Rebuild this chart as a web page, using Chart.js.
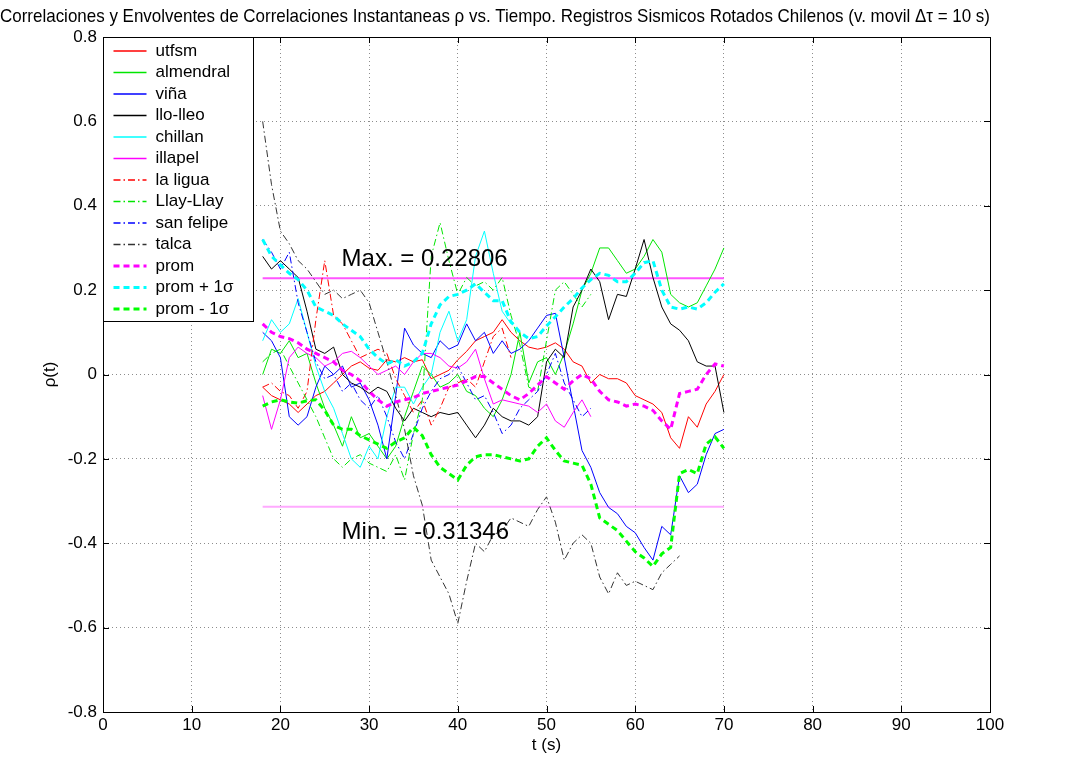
<!DOCTYPE html>
<html>
<head>
<meta charset="utf-8">
<script src="https://cdn.jsdelivr.net/npm/chart.js@4.4.1/dist/chart.umd.min.js"></script>
<style>
  html, body { margin: 0; padding: 0; background: #ffffff; }
  #wrap { width: 1090px; height: 761px; }
</style>
</head>
<body>
<div id="wrap"><canvas id="c" width="1090" height="761"></canvas></div>
<script>
// ---------------- DATA ----------------
const T = [18,19,20,21,22,23,24,25,26,27,28,29,30,31,32,33,34,35,36,37,38,39,40,41,42,43,44,45,46,47,48,49,50,51,52,53,54,55,56,57,58,59,60,61,62,63,64,65,66,67,68,69,70];

const utfsm = [-0.03,-0.05,-0.06,-0.07,-0.09,-0.07,-0.05,-0.04,-0.02,0.0,0.02,0.03,0.015,0.01,0.035,0.03,0.04,0.03,0.035,-0.01,0.0,0.01,0.035,0.055,0.08,0.09,0.1,0.13,0.1,0.08,0.065,0.06,0.065,0.075,0.06,0.03,0.02,-0.02,0.0,-0.01,-0.01,-0.02,-0.05,-0.06,-0.07,-0.09,-0.15,-0.175,-0.1,-0.125,-0.07,-0.04,0.0];
const almendral = [0.0,0.06,0.05,0.08,0.04,0.05,-0.02,-0.08,-0.12,-0.17,-0.1,-0.15,-0.14,-0.17,-0.2,-0.17,-0.1,-0.04,0.02,0.0,-0.03,-0.02,0.0,-0.04,-0.05,-0.08,-0.1,-0.06,0.0,0.1,-0.02,0.03,0.04,0.0,0.05,0.12,0.2,0.24,0.3,0.3,0.27,0.24,0.25,0.28,0.32,0.29,0.19,0.17,0.16,0.17,0.21,0.25,0.3];
const vina = [0.1,0.08,0.04,-0.1,-0.12,-0.1,-0.03,0.02,0.0,0.02,-0.03,-0.02,-0.06,-0.12,-0.2,-0.05,0.11,0.07,0.05,0.04,0.08,0.06,0.07,0.12,0.08,0.1,0.05,0.08,0.05,0.06,0.08,0.11,0.14,0.145,0.04,-0.07,-0.18,-0.22,-0.28,-0.315,-0.33,-0.36,-0.375,-0.41,-0.44,-0.36,-0.38,-0.24,-0.28,-0.26,-0.19,-0.14,-0.13];
const lloLleo = [0.28,0.25,0.27,0.25,0.23,0.15,0.06,0.05,0.065,0.0,-0.02,-0.03,-0.045,-0.03,-0.04,-0.08,-0.11,-0.08,-0.09,-0.1,-0.09,-0.095,-0.09,-0.12,-0.15,-0.12,-0.08,-0.1,-0.11,-0.11,-0.12,-0.1,0.03,0.06,0.04,0.16,0.2,0.25,0.22,0.13,0.19,0.185,0.25,0.32,0.23,0.16,0.12,0.105,0.08,0.03,0.02,0.02,-0.09];
const chillan = [0.08,0.13,0.1,0.12,0.18,0.1,0.02,-0.04,-0.08,-0.14,-0.2,-0.22,-0.17,-0.2,-0.1,-0.03,-0.03,-0.07,-0.03,0.0,0.1,0.15,0.08,0.13,0.28,0.34,0.24,0.15,0.12];
const illapel = [-0.05,-0.13,-0.06,0.04,0.065,0.05,0.04,0.02,0.03,0.05,0.055,0.04,0.02,0.0,0.01,0.02,0.0,0.03,0.05,0.05,0.04,0.02,0.015,0.03,0.06,-0.01,-0.07,-0.06,-0.065,-0.07,-0.075,-0.09,-0.07,-0.11,-0.125,-0.09,-0.06,-0.1];
const laLigua = [-0.03,-0.02,-0.04,-0.05,-0.08,-0.04,0.13,0.27,0.14,0.12,0.08,0.04,0.05,0.06,0.05,-0.01,-0.05,-0.09,-0.06,-0.12,-0.08,-0.03,-0.02,-0.01,-0.03,0.03,0.09,0.11,0.04];
const llayLlay = [0.03,0.05,0.06,0.02,-0.02,-0.06,-0.1,-0.15,-0.2,-0.22,-0.2,-0.19,-0.21,-0.22,-0.23,-0.19,-0.25,-0.14,-0.06,0.28,0.36,0.27,0.19,0.23,0.21,0.22,0.2,0.23,0.14,0.07,-0.03,-0.04,0.08,0.2,0.22,0.19,0.16,0.19];
const sanFelipe = [0.32,0.29,0.25,0.29,0.17,0.1,0.03,-0.01,0.0,-0.04,-0.02,-0.06,-0.08,-0.05,-0.1,-0.16,-0.2,-0.14,-0.08,-0.04,-0.01,0.0,0.02,-0.02,-0.06,-0.05,-0.09,-0.14,-0.12,-0.08,-0.06,-0.04,0.0,0.05,-0.02,-0.06,-0.1,-0.08];
const talca = [0.6,0.45,0.34,0.31,0.27,0.25,0.22,0.19,0.2,0.18,0.19,0.2,0.17,0.1,0.03,-0.05,-0.13,-0.24,-0.31,-0.44,-0.48,-0.52,-0.59,-0.49,-0.4,-0.42,-0.38,-0.37,-0.34,-0.35,-0.36,-0.32,-0.29,-0.35,-0.44,-0.4,-0.38,-0.4,-0.48,-0.52,-0.47,-0.5,-0.49,-0.5,-0.51,-0.47,-0.45,-0.43];
const prom = [0.12,0.1,0.09,0.085,0.075,0.06,0.05,0.04,0.03,0.01,0.0,-0.015,-0.04,-0.06,-0.075,-0.065,-0.06,-0.055,-0.045,-0.04,-0.035,-0.03,-0.025,-0.015,-0.005,-0.005,-0.02,-0.035,-0.05,-0.06,-0.045,-0.025,-0.005,-0.02,-0.035,-0.015,0.0,-0.01,-0.04,-0.06,-0.065,-0.075,-0.07,-0.075,-0.085,-0.11,-0.13,-0.045,-0.04,-0.035,0.0,0.025,0.02];
const promMas = [0.32,0.28,0.26,0.24,0.225,0.2,0.16,0.15,0.14,0.12,0.105,0.09,0.06,0.04,0.025,0.035,0.02,0.03,0.05,0.12,0.165,0.185,0.19,0.2,0.215,0.195,0.175,0.175,0.125,0.1,0.085,0.09,0.115,0.137,0.16,0.18,0.205,0.225,0.24,0.235,0.22,0.22,0.24,0.265,0.27,0.2,0.16,0.155,0.16,0.155,0.17,0.195,0.215];
const promMenos = [-0.075,-0.065,-0.06,-0.065,-0.068,-0.062,-0.06,-0.085,-0.12,-0.13,-0.13,-0.145,-0.155,-0.165,-0.175,-0.16,-0.15,-0.125,-0.145,-0.19,-0.22,-0.235,-0.25,-0.215,-0.195,-0.19,-0.19,-0.195,-0.2,-0.205,-0.2,-0.17,-0.15,-0.18,-0.205,-0.21,-0.215,-0.26,-0.34,-0.355,-0.37,-0.395,-0.42,-0.435,-0.455,-0.425,-0.41,-0.235,-0.225,-0.235,-0.165,-0.148,-0.175];

const maxValue = 0.22806;
const minValue = -0.31346;
const envelopeSpan = [18, 70];

const seriesNames = ['utfsm','almendral','viña','llo-lleo','chillan','illapel','la ligua','Llay-Llay','san felipe','talca','prom','prom + 1σ','prom - 1σ'];
const xTicks = [0,10,20,30,40,50,60,70,80,90,100];
const yTicks = [-0.8,-0.6,-0.4,-0.2,0,0.2,0.4,0.6,0.8];

// ---------------- BUILD ----------------
function pts(arr) {
  const out = [];
  for (let i = 0; i < arr.length && i < T.length; i++) {
    if (arr[i] !== null && arr[i] !== undefined) out.push({x: T[i], y: arr[i]});
  }
  return out;
}
const DASHDOT = [7, 3, 1.5, 3];
const THICKDASH = [6, 4];
const styles = [
  {c:'#ff0000', w:1, d:[]},
  {c:'#00e600', w:1, d:[]},
  {c:'#0000ff', w:1, d:[]},
  {c:'#000000', w:1, d:[]},
  {c:'#00ffff', w:1, d:[]},
  {c:'#ff00ff', w:1, d:[]},
  {c:'#ff0000', w:1, d:DASHDOT},
  {c:'#00e600', w:1, d:DASHDOT},
  {c:'#0000ff', w:1, d:DASHDOT},
  {c:'#333333', w:1, d:DASHDOT},
  {c:'#ff00ff', w:3, d:THICKDASH},
  {c:'#00ffff', w:3, d:THICKDASH},
  {c:'#00ff00', w:3, d:THICKDASH}
];
const seriesData = [utfsm, almendral, vina, lloLleo, chillan, illapel, laLigua, llayLlay, sanFelipe, talca, prom, promMas, promMenos];

const datasets = seriesData.map((arr, i) => ({
  label: seriesNames[i],
  data: pts(arr),
  borderColor: styles[i].c,
  borderWidth: styles[i].w,
  borderDash: styles[i].d,
  pointRadius: 0,
  tension: 0,
  fill: false,
  order: 13 - i
}));
datasets.push({
  label: '_max', data: [{x: envelopeSpan[0], y: maxValue}, {x: envelopeSpan[1], y: maxValue}],
  borderColor: '#ff55ff', borderWidth: 2, pointRadius: 0, fill: false, order: 20
});
datasets.push({
  label: '_min', data: [{x: envelopeSpan[0], y: minValue}, {x: envelopeSpan[1], y: minValue}],
  borderColor: '#ffaaff', borderWidth: 2, pointRadius: 0, fill: false, order: 20
});

const FONT = "'Liberation Sans', Arial, Helvetica, sans-serif";

const framePlugin = {
  id: 'frame',
  beforeDatasetsDraw(chart) {
    const {ctx, chartArea: a} = chart;
    ctx.save();
    ctx.strokeStyle = '#000';
    ctx.lineWidth = 1;
    ctx.beginPath();
    const xs = chart.scales.x, ys = chart.scales.y;
    xTicks.forEach(v => {
      const px = Math.round(xs.getPixelForValue(v)) + 0.5;
      ctx.moveTo(px, a.bottom); ctx.lineTo(px, a.bottom - 6);
      ctx.moveTo(px, a.top); ctx.lineTo(px, a.top + 6);
    });
    yTicks.forEach(v => {
      const py = Math.round(ys.getPixelForValue(v)) + 0.5;
      ctx.moveTo(a.left, py); ctx.lineTo(a.left + 6, py);
      ctx.moveTo(a.right, py); ctx.lineTo(a.right - 6, py);
    });
    ctx.stroke();
    ctx.restore();
  },
  afterDatasetsDraw(chart) {
    const {ctx, chartArea: a} = chart;
    const xs = chart.scales.x, ys = chart.scales.y;
    ctx.save();
    // annotations
    ctx.fillStyle = '#000';
    ctx.font = '24px ' + FONT;
    ctx.textAlign = 'left';
    ctx.textBaseline = 'middle';
    ctx.fillText('Max. = ' + maxValue.toFixed(5), xs.getPixelForValue(26.9), ys.getPixelForValue(0.274));
    ctx.fillText('Min. = ' + minValue.toFixed(5), xs.getPixelForValue(26.9), ys.getPixelForValue(-0.375));
    // frame
    ctx.strokeStyle = '#000';
    ctx.lineWidth = 1;
    ctx.strokeRect(Math.round(a.left) + 0.5, Math.round(a.top) + 0.5, Math.round(a.right - a.left), Math.round(a.bottom - a.top));
    // legend
    const lx = Math.round(a.left) + 0.5, ly = Math.round(a.top) + 0.5;
    const lw = 150, lh = 284;
    ctx.fillStyle = '#fff';
    ctx.fillRect(lx, ly, lw, lh);
    ctx.strokeRect(lx, ly, lw, lh);
    ctx.font = '17px ' + FONT;
    ctx.textBaseline = 'middle';
    for (let i = 0; i < seriesNames.length; i++) {
      const yy = ly + 13.5 + i * 21.5;
      ctx.save();
      ctx.strokeStyle = styles[i].c;
      ctx.lineWidth = styles[i].w === 3 ? 3 : 1.5;
      ctx.setLineDash(styles[i].d);
      ctx.beginPath();
      ctx.moveTo(lx + 10, yy);
      ctx.lineTo(lx + 43, yy);
      ctx.stroke();
      ctx.restore();
      ctx.fillStyle = '#000';
      ctx.fillText(seriesNames[i], lx + 52, yy);
    }
    ctx.restore();
  }
};

new Chart(document.getElementById('c'), {
  type: 'line',
  data: { datasets },
  options: {
    responsive: false,
    animation: false,
    devicePixelRatio: 1,
    layout: { padding: { left: 0, right: 100, top: 0, bottom: 0 } },
    plugins: {
      legend: { display: false },
      tooltip: { enabled: false },
      title: {
        display: true,
        text: 'Correlaciones y Envolventes de Correlaciones Instantaneas ρ vs. Tiempo. Registros Sismicos Rotados Chilenos (v. movil Δτ = 10 s)',
        color: '#000',
        font: { family: FONT, size: 18.1, weight: 'normal' },
        padding: { top: 6, bottom: 9.3 }
      }
    },
    scales: {
      x: {
        type: 'linear', min: 0, max: 100,
        afterFit(s) { s.height = 49; },
        afterBuildTicks(s) { s.ticks = xTicks.map(v => ({value: v})); },
        ticks: { color: '#000', font: { family: FONT, size: 17 }, padding: 3, maxRotation: 0, autoSkip: false },
        grid: { color: '#8c8c8c', drawTicks: false, lineWidth: 1 },
        border: { display: true, color: '#000', dash: [1, 3] },
        title: { display: true, text: 't (s)', color: '#000', font: { family: FONT, size: 17 }, padding: { top: 0, bottom: 5 } }
      },
      y: {
        type: 'linear', min: -0.8, max: 0.8,
        afterFit(s) { s.width = 103; },
        afterBuildTicks(s) { s.ticks = yTicks.map(v => ({value: v})); },
        ticks: {
          color: '#000', font: { family: FONT, size: 17 }, padding: 6, autoSkip: false,
          callback: v => (v === 0 ? '0' : (Math.round(v * 10) / 10).toFixed(1))
        },
        grid: { color: '#8c8c8c', drawTicks: false, lineWidth: 1 },
        border: { display: true, color: '#000', dash: [1, 3] },
        title: { display: true, text: 'ρ(t)', color: '#000', font: { family: FONT, size: 17 }, padding: { top: 40, bottom: 0 } }
      }
    }
  },
  plugins: [framePlugin]
});
</script>
</body>
</html>
